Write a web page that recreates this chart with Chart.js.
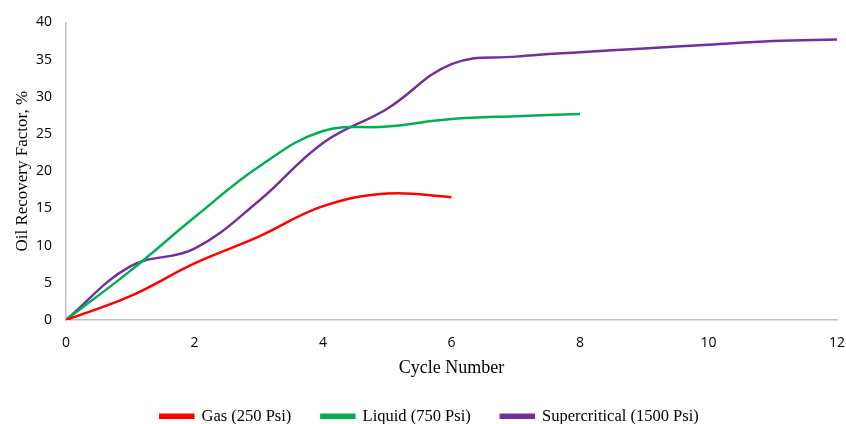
<!DOCTYPE html>
<html>
<head>
<meta charset="utf-8">
<script src="https://cdn.jsdelivr.net/npm/chart.js@4"></script>
<style>
html,body{margin:0;padding:0;background:#fff;}
#wrap{width:846px;height:424px;position:relative;}
</style>
</head>
<body>
<div id="wrap"><canvas id="c" width="846" height="424"></canvas></div>
<script>
const cycles = [0,1,2,3,4,5,6,7,8,9,10,11,12];
const gas = [0,3.2,7.6,11.2,15.3,17.0,16.5];
const liquid = [0,6.6,13.8,20.6,25.4,26.0,27.0,27.4,27.7];
const supercritical = [0,7.2,9.6,16.0,23.8,28.4,34.4,35.4,36.0,36.5,37.0,37.5,37.7];
const xTicks = [0,2,4,6,8,10,12];
const yTicks = [0,5,10,15,20,25,30,35,40];
const seriesNames = ['Gas (250 Psi)','Liquid (750 Psi)','Supercritical (1500 Psi)'];
const colors = ['#ff0000','#00b050','#7030a0'];

function pts(arr){ return arr.map((v,i)=>({x:cycles[i], y:v})); }

const tickFont = {family:'"Open Sans","Liberation Sans",Arial,sans-serif', size:14};
const serif = '"Liberation Serif","Times New Roman",serif';

const legendNudge = {
  id:'legendNudge',
  afterLayout(chart){
    const lg = chart.legend;
    if(lg){ lg.left += 11; lg.right += 11; }
  }
};

new Chart(document.getElementById('c'), {
  type:'line',
  data:{
    datasets:[gas,liquid,supercritical].map((d,i)=>({
      label:seriesNames[i], data:pts(d), borderColor:colors[i], backgroundColor:colors[i],
      borderWidth:2.5, pointRadius:0, tension:0.4, fill:false
    }))
  },
  options:{
    responsive:false, animation:false,
    layout:{padding:{left:0,right:9,top:12,bottom:0}},
    plugins:{
      legend:{position:'bottom', align:'center', maxHeight:46,
        labels:{font:{family:serif,size:16.5}, color:'#000', boxWidth:33, boxHeight:3, padding:30}},
      tooltip:{enabled:false}
    },
    scales:{
      x:{type:'linear', min:0, max:12,
        afterBuildTicks:(s)=>{s.ticks = xTicks.map(v=>({value:v}));},
        afterFit:(s)=>{s.height = 58; s.paddingRight = 0; s.paddingLeft = 0;},
        grid:{display:false, drawTicks:false},
        border:{color:'#bfbfbf', width:1.5},
        ticks:{font:tickFont, color:'#000', padding:15},
        title:{display:true, text:'Cycle Number', font:{family:serif,size:18}, color:'#000', padding:{top:0,bottom:-1}}
      },
      y:{min:0, max:40,
        afterBuildTicks:(s)=>{s.ticks = yTicks.map(v=>({value:v}));},
        afterFit:(s)=>{s.width = 66;},
        grid:{display:false, drawTicks:false},
        border:{color:'#bfbfbf', width:1.5},
        ticks:{font:tickFont, color:'#000', padding:14},
        title:{display:true, text:'Oil Recovery Factor, %', font:{family:serif,size:17}, color:'#000', padding:{top:12,bottom:0}}
      }
    }
  },
  plugins:[legendNudge]
});
</script>
</body>
</html>
